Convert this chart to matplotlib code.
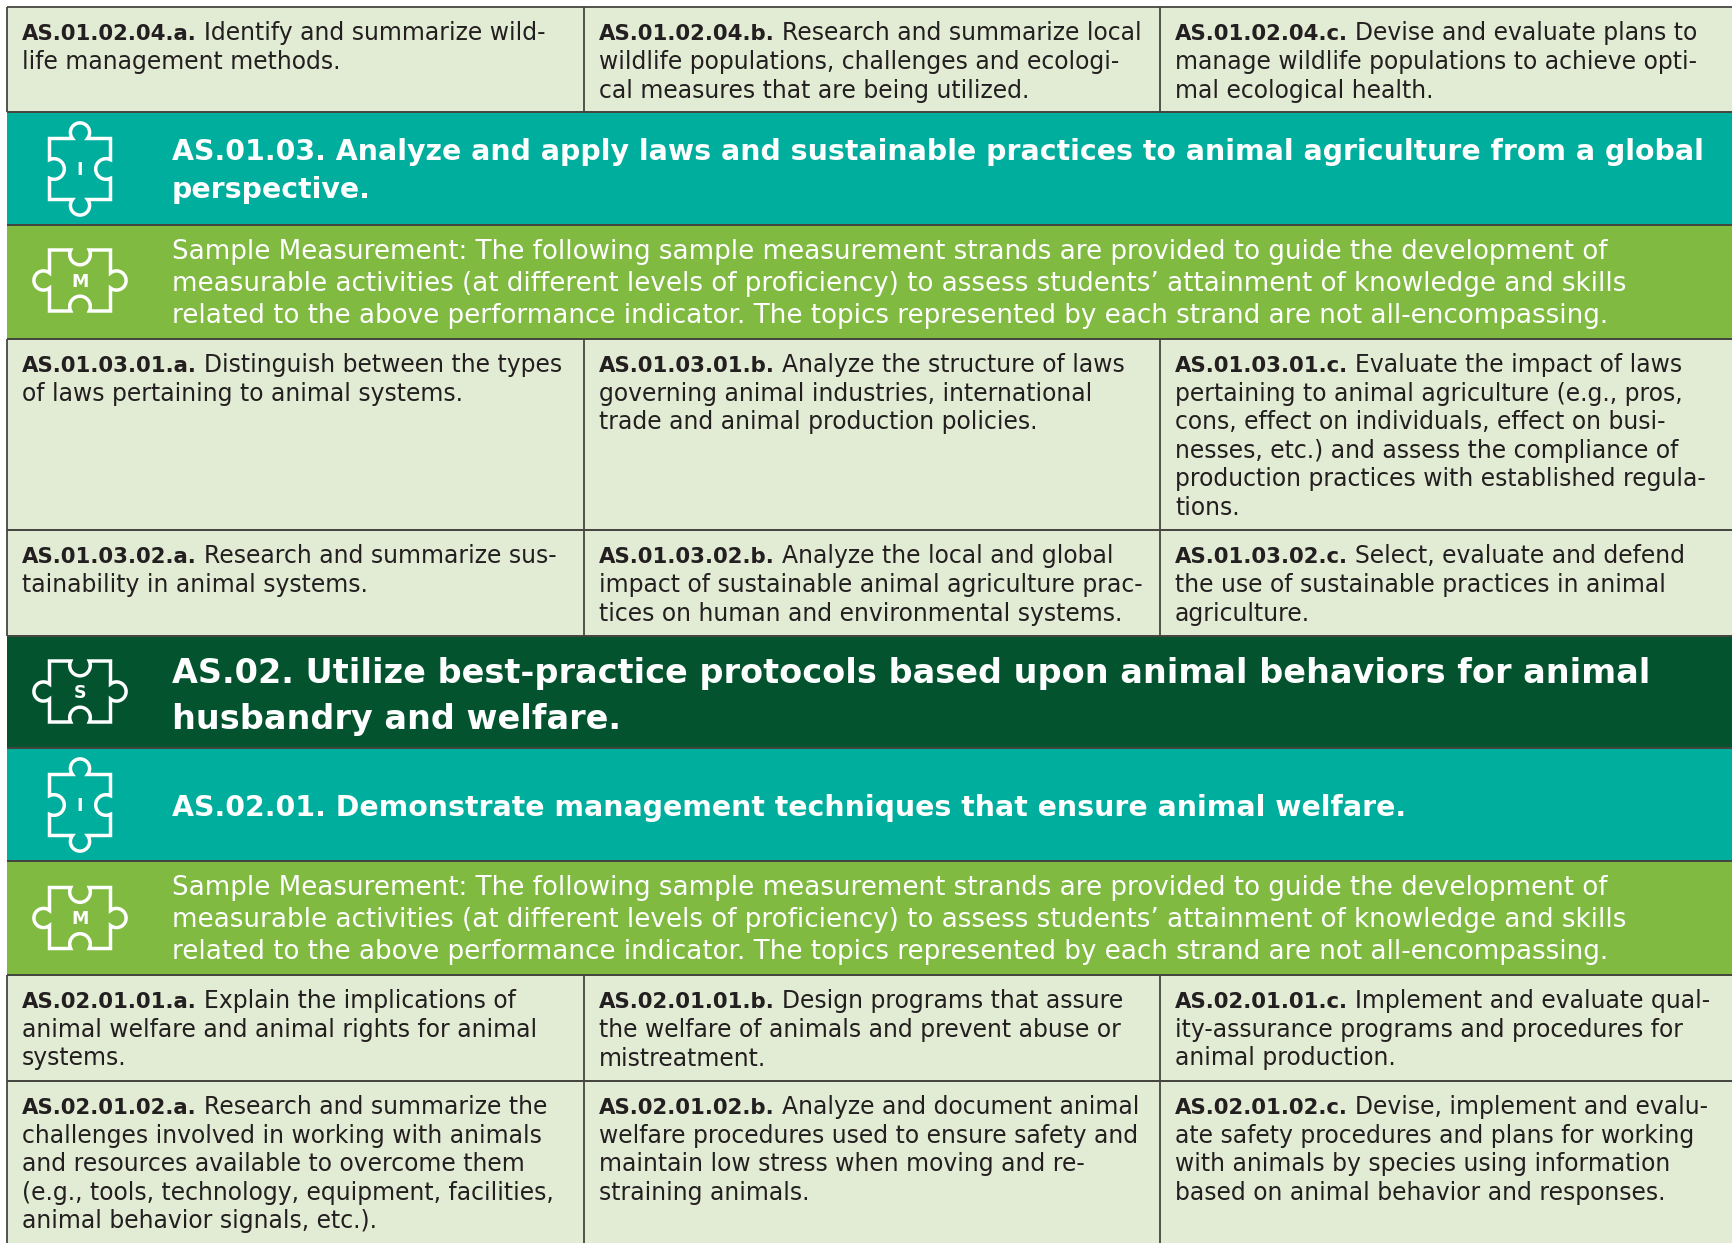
import numpy as np
import matplotlib
matplotlib.use("Agg")
import matplotlib.pyplot as plt
from matplotlib.path import Path
from matplotlib.patches import PathPatch, Rectangle

W, H = 1732, 1243
FONT = "DejaVu Sans"
BODY_SIZE = 16.95
CODE_SIZE = 15.3
SAMPLE_SIZE = 18.8
HEAD_I_SIZE = 20.45
HEAD_S_SIZE = 24.15

CELL = "#e2ebd3"
TEAL = "#00ae9d"
GREEN = "#80ba41"
DARK = "#03532f"
LINE = "#44463f"
INK = "#231f20"

col_edges = [7, 584, 1160, 1732]

row1 = [
    ["AS.01.02.04.a.", "Identify and summarize wild-", "life management methods."],
    ["AS.01.02.04.b.", "Research and summarize local", "wildlife populations, challenges and ecologi-", "cal measures that are being utilized."],
    ["AS.01.02.04.c.", "Devise and evaluate plans to", "manage wildlife populations to achieve opti-", "mal ecological health."],
]
row2 = [
    ["AS.01.03.01.a.", "Distinguish between the types", "of laws pertaining to animal systems."],
    ["AS.01.03.01.b.", "Analyze the structure of laws", "governing animal industries, international", "trade and animal production policies."],
    ["AS.01.03.01.c.", "Evaluate the impact of laws", "pertaining to animal agriculture (e.g., pros,", "cons, effect on individuals, effect on busi-", "nesses, etc.) and assess the compliance of", "production practices with established regula-", "tions."],
]
row3 = [
    ["AS.01.03.02.a.", "Research and summarize sus-", "tainability in animal systems."],
    ["AS.01.03.02.b.", "Analyze the local and global", "impact of sustainable animal agriculture prac-", "tices on human and environmental systems."],
    ["AS.01.03.02.c.", "Select, evaluate and defend", "the use of sustainable practices in animal", "agriculture."],
]
row4 = [
    ["AS.02.01.01.a.", "Explain the implications of", "animal welfare and animal rights for animal", "systems."],
    ["AS.02.01.01.b.", "Design programs that assure", "the welfare of animals and prevent abuse or", "mistreatment."],
    ["AS.02.01.01.c.", "Implement and evaluate qual-", "ity-assurance programs and procedures for", "animal production."],
]
row5 = [
    ["AS.02.01.02.a.", "Research and summarize the", "challenges involved in working with animals", "and resources available to overcome them", "(e.g., tools, technology, equipment, facilities,", "animal behavior signals, etc.)."],
    ["AS.02.01.02.b.", "Analyze and document animal", "welfare procedures used to ensure safety and", "maintain low stress when moving and re-", "straining animals."],
    ["AS.02.01.02.c.", "Devise, implement and evalu-", "ate safety procedures and plans for working", "with animals by species using information", "based on animal behavior and responses."],
]
sample_lines = [
    "Sample Measurement: The following sample measurement strands are provided to guide the development of",
    "measurable activities (at different levels of proficiency) to assess students\u2019 attainment of knowledge and skills",
    "related to the above performance indicator. The topics represented by each strand are not all-encompassing.",
]
head_i1 = ["AS.01.03. Analyze and apply laws and sustainable practices to animal agriculture from a global", "perspective."]
head_s = ["AS.02. Utilize best-practice protocols based upon animal behaviors for animal", "husbandry and welfare."]
head_i2 = ["AS.02.01. Demonstrate management techniques that ensure animal welfare."]

fig = plt.figure(figsize=(W / 100, H / 100), dpi=100, facecolor="white")
ax = fig.add_axes([0, 0, 1, 1])
ax.set_xlim(0, W)
ax.set_ylim(H, 0)
ax.axis("off")
renderer = fig.canvas.get_renderer()


def band(y0, y1, color):
    ax.add_patch(Rectangle((col_edges[0], y0), W - col_edges[0], y1 - y0, fc=color, ec="none", zorder=1))
    ax.plot([col_edges[0], W], [y0, y0], color=LINE, lw=1.3, zorder=3, solid_capstyle="butt")
    ax.plot([col_edges[0], W], [y1, y1], color=LINE, lw=1.3, zorder=3, solid_capstyle="butt")


def cell_row(y0, y1, base, cells):
    band(y0, y1, CELL)
    for x in col_edges[:-1]:
        ax.plot([x, x], [y0, y1], color=LINE, lw=1.3, zorder=3, solid_capstyle="butt")
    for x, cell in zip(col_edges, cells):
        # bold code first, rest of the first line goes right after it
        tx = x + 15
        t = ax.text(tx, base, cell[0], fontsize=CODE_SIZE, fontweight="bold", color=INK, family=FONT, va="baseline", zorder=4)
        w = t.get_window_extent(renderer).width
        ax.text(tx + w + 7, base, cell[1], fontsize=BODY_SIZE, color=INK, family=FONT, va="baseline", zorder=4)
        for i, line in enumerate(cell[2:]):
            ax.text(tx, base + 28.6 * (i + 1), line, fontsize=BODY_SIZE, color=INK, family=FONT, va="baseline", zorder=4)


def side(h, r, d, s):
    # one puzzle side on top, running left to right, y up
    w = np.sqrt(r ** 2 - d ** 2)
    phi = np.arctan2(d, w)
    if s > 0:
        a = np.linspace(np.pi + phi, -phi, 40)
    else:
        a = np.linspace(np.pi - phi, 2 * np.pi + phi, 40)
    px = np.r_[-h, r * np.cos(a)]
    py = np.r_[h, s * d + h + r * np.sin(a)]
    return px, py


def puzzle(cx, cy, letter, top):
    # top = 1: knobs out on top and bottom, top = -1: knobs out left and right
    xs, ys = [], []
    for k in range(4):
        s = top if k % 2 == 0 else -top
        d = 6.0 if s > 0 else 4.5
        r = 9.6 if s > 0 else 10.3
        px, py = side(30.5, r, d, s)
        ang = -k * np.pi / 2
        xs.append(px * np.cos(ang) - py * np.sin(ang))
        ys.append(px * np.sin(ang) + py * np.cos(ang))
    xs, ys = np.concatenate(xs), np.concatenate(ys)
    verts = np.c_[cx + xs, cy - ys]
    verts = np.vstack([verts, verts[0]])
    codes = [Path.MOVETO] + [Path.LINETO] * (len(verts) - 2) + [Path.CLOSEPOLY]
    ax.add_patch(PathPatch(Path(verts, codes), fc="none", ec="white", lw=2.5, joinstyle="miter", zorder=4))
    ax.text(cx, cy + 1, letter, color="white", fontsize=12.5, fontweight="bold", family=FONT, ha="center", va="center", zorder=4)


def text_lines(lines, ys, size, bold):
    for line, y in zip(lines, ys):
        ax.text(172, y, line, color="white", fontsize=size, family=FONT, fontweight="bold" if bold else "normal", va="baseline", zorder=4)


cell_row(7, 112, 40.3, row1)

band(112, 225, TEAL)
puzzle(80, 169, "I", 1)
text_lines(head_i1, [160, 198], HEAD_I_SIZE, True)

band(225, 339, GREEN)
puzzle(80, 280.5, "M", -1)
text_lines(sample_lines, [259, 291, 323], SAMPLE_SIZE, False)

cell_row(339, 530, 372, row2)
cell_row(530, 636, 563.4, row3)

band(636, 748, DARK)
puzzle(80, 691.5, "S", -1)
text_lines(head_s, [683, 729], HEAD_S_SIZE, True)

band(748, 861, TEAL)
puzzle(80, 805, "I", 1)
text_lines(head_i2, [816], HEAD_I_SIZE, True)

band(861, 975, GREEN)
puzzle(80, 918, "M", -1)
text_lines(sample_lines, [895, 927, 959], SAMPLE_SIZE, False)

cell_row(975, 1081, 1008.3, row4)
cell_row(1081, 1250, 1114, row5)

fig.savefig("out.png", dpi=100)
